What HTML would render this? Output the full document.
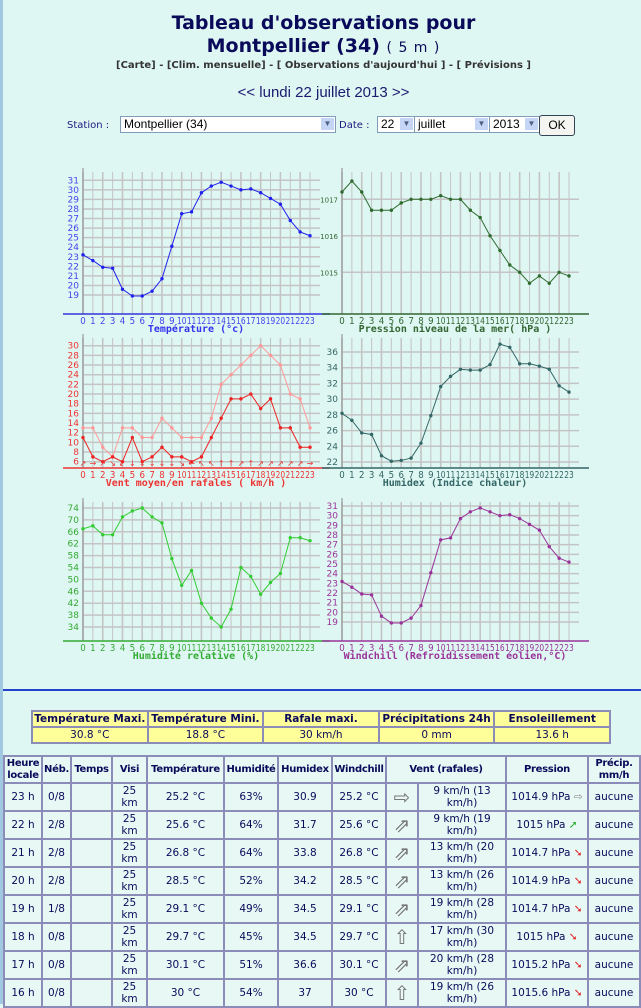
<!DOCTYPE html>
<html><head><meta charset="utf-8">
<style>
body{margin:0;width:641px;height:1004px;overflow:hidden;background:#dff7f2;font-family:"DejaVu Sans",Verdana,sans-serif;position:relative;border-left:3px solid #a0c8e0;box-sizing:border-box}
.abs{position:absolute}
h1{position:absolute;left:0;width:641px;top:12px;margin:0;text-align:center;color:#0a0a5a;font-size:19px;line-height:23px;font-weight:bold}
h1 small{font-size:14px;font-weight:normal;letter-spacing:1px}
.links{top:60px;left:0;width:641px;text-align:center;font-size:10px;font-weight:bold;color:#333}
.date{top:84px;left:0;width:641px;text-align:center;font-family:"Liberation Sans",sans-serif;font-size:15px;color:#1a1a70}
.lab{font-size:10px;color:#1a1a80}
.sel{background:#fff;border:1px solid #7f9db9;height:16px;box-sizing:border-box;font-family:"Liberation Sans",sans-serif;font-size:12px;line-height:14px;padding-left:3px}
.sel i{position:absolute;right:1px;top:1px;width:13px;height:12px;background:#c5d5f5;font-style:normal;font-size:8px;text-align:center;color:#4d6185;line-height:12px}
table{border-collapse:collapse;position:absolute;font-size:10.5px;color:#0a0a5a;table-layout:fixed}
td,th{border:2px solid #8c8cb8;text-align:center;padding:0;overflow:hidden}
.sum td{background:#ffff99}
.main{background:#e8f8f5}
.main th{font-weight:bold;line-height:12px;font-size:10px;letter-spacing:-0.3px}
.main td{line-height:12px}
.main tr{height:28px}
.main tr.hd{height:27px}
</style></head><body>
<h1>Tableau d'observations pour<br>Montpellier (34) <small>( 5 m )</small></h1>
<div class="abs links">[Carte] - [Clim. mensuelle] - [ Observations d'aujourd'hui ] - [ Prévisions ]</div>
<div class="abs date">&lt;&lt; lundi 22 juillet 2013 &gt;&gt;</div>
<div class="abs lab" style="left:64px;top:120px">Station :</div>
<div class="abs sel" style="left:117px;top:116px;width:216px;height:17px">Montpellier (34)<i>▼</i></div>
<div class="abs lab" style="left:336px;top:120px">Date :</div>
<div class="abs sel" style="left:374px;top:116px;width:38px;height:17px">22<i>▼</i></div>
<div class="abs sel" style="left:411px;top:116px;width:76px;height:17px">juillet<i>▼</i></div>
<div class="abs sel" style="left:486px;top:116px;width:51px;height:17px">2013<i>▼</i></div>
<div class="abs" style="left:536px;top:115px;width:34px;height:19px;border:1px solid #345;border-radius:3px;background:#f4f4f0;font-family:'Liberation Sans',sans-serif;font-size:12px;text-align:center;line-height:19px">OK</div>

<svg id="ch" class="abs" style="left:-3px;top:0" width="641" height="680"></svg>
<div class="abs" style="left:0;top:689px;width:641px;height:2px;background:#2244cc"></div>

<table class="sum" style="left:28px;top:710px;width:580px">
<tr style="height:16px"><th style="background:#ffff99">Température Maxi.</th><th style="background:#ffff99">Température Mini.</th><th style="background:#ffff99">Rafale maxi.</th><th style="background:#ffff99">Précipitations 24h</th><th style="background:#ffff99">Ensoleillement</th></tr>
<tr style="height:16px"><td>30.8 °C</td><td>18.8 °C</td><td>30 km/h</td><td>0 mm</td><td>13.6 h</td></tr>
</table>

<table class="main" style="left:0;top:755px;width:636px">
<colgroup><col style="width:38px"><col style="width:29px"><col style="width:41px"><col style="width:35px"><col style="width:77px"><col style="width:54px"><col style="width:54px"><col style="width:54px"><col style="width:32px"><col style="width:88px"><col style="width:82px"><col style="width:52px"></colgroup>
<tr class="hd"><th>Heure locale</th><th>Néb.</th><th>Temps</th><th>Visi</th><th>Température</th><th>Humidité</th><th>Humidex</th><th>Windchill</th><th colspan="2">Vent (rafales)</th><th>Pression</th><th>Précip. mm/h</th></tr>
<tbody id="rows"></tbody>
</table>

<script>
var NS="http://www.w3.org/2000/svg",svg=document.getElementById('ch');
function el(t,a,txt){var e=document.createElementNS(NS,t);for(var k in a)e.setAttribute(k,a[k]);if(txt!=null)e.textContent=txt;svg.appendChild(e);return e;}
var step=9.87;
function chart(o){
 var x0=o.x0,f=function(v){return o.y0+(v-o.v0)*(o.y1-o.y0)/(o.v1-o.v0)};
 for(var h=0;h<24;h++){var x=x0+h*step;el('line',{x1:x,y1:o.top,x2:x,y2:o.ay,stroke:'#c4c4c4','stroke-width':h%2?1:1.6});}
 o.ticks.forEach(function(v){var y=f(v);el('line',{x1:x0,y1:y,x2:x0+237,y2:y,stroke:'#c4c4c4','stroke-width':1.5});
  el('text',{x:x0-4,y:y+3,'text-anchor':'end','font-size':o.fs||9,fill:o.lc,'font-family':'DejaVu Sans'},v);});
 el('line',{x1:x0,y1:o.top-4,x2:x0,y2:o.ay,stroke:'#888','stroke-width':1});
 el('line',{x1:x0-20,y1:o.ay,x2:x0+247,y2:o.ay,stroke:o.ac,'stroke-width':1.5});
 for(var h=0;h<24;h++)el('text',{x:x0+h*step,y:o.ay+10,'text-anchor':'middle','font-size':9.5,fill:o.lc,'font-family':'DejaVu Sans','textLength':h>9?9.5:5.5,lengthAdjust:'spacingAndGlyphs'},h);
 el('text',{x:x0+113,y:o.ay+18,'text-anchor':'middle','font-size':10,'font-weight':'bold',fill:o.tc||o.lc,'font-family':'DejaVu Sans Mono'},o.title);
 o.series.forEach(function(s){var p=s.d.map(function(v,i){return (x0+i*step)+','+f(v)}).join(' ');
  el('polyline',{points:p,fill:'none',stroke:s.c,'stroke-width':1});
  s.d.forEach(function(v,i){el('circle',{cx:x0+i*step,cy:f(v),r:1.7,fill:s.c});});});
}
var T=[23.2,22.6,21.9,21.8,19.6,18.9,18.9,19.4,20.7,24.1,27.5,27.7,29.7,30.4,30.8,30.4,30.0,30.1,29.7,29.1,28.5,26.8,25.6,25.2];
function rng(a,b,s){var r=[];for(var v=a;v<=b;v+=s)r.push(v);return r;}
chart({x0:83,top:172,ay:314,v0:31,y0:180.3,v1:19,y1:295,ticks:rng(19,31,1),lc:'#4444ee',ac:'#3333dd',tc:'#3333ee',title:'Température (°c)',series:[{d:T,c:'#2222ee'}]});
chart({x0:342,top:172,ay:314,v0:1017,y0:199.3,v1:1015,y1:272.3,ticks:[1015,1016,1017],fs:7,lc:'#336633',ac:'#336633',title:'Pression niveau de la mer( hPa )',
 series:[{d:[1017.2,1017.5,1017.2,1016.7,1016.7,1016.7,1016.9,1017,1017,1017,1017.1,1017,1017,1016.7,1016.5,1016,1015.6,1015.2,1015,1014.7,1014.9,1014.7,1015,1014.9],c:'#2e6a2e'}]});
chart({x0:83,top:338,ay:468,v0:30,y0:345.7,v1:6,y1:461.7,ticks:rng(6,30,2),lc:'#ee3333',ac:'#ee3333',title:'Vent moyen/en rafales ( km/h )',
 series:[{d:[13,13,9,7,13,13,11,11,15,13,11,11,11,15,22,24,26,28,30,28,26,20,19,13],c:'#ff9999'},{d:[11,7,6,7,6,11,6,7,9,7,7,6,7,11,15,19,19,20,17,19,13,13,9,9],c:'#ee2222'}]});
var ar="↗→↗↘↙↓↓↓↓↓↘←↖↖↑↑↗↑↗↗↗↗↗→";
for(var i=0;i<24;i++)el('text',{x:83+i*step,y:466,'text-anchor':'middle','font-size':8,fill:'#ee3333'},ar[i]);
chart({x0:342,top:338,ay:468,v0:36,y0:352,v1:22,y1:462,ticks:rng(22,36,2),lc:'#336666',ac:'#336666',title:'Humidex (Indice chaleur)',
 series:[{d:[28.2,27.3,25.7,25.5,22.8,22.1,22.2,22.5,24.4,27.9,31.6,32.9,33.8,33.7,33.7,34.4,37,36.6,34.5,34.5,34.2,33.8,31.7,30.9],c:'#336666'}]});
chart({x0:83,top:502,ay:641,v0:74,y0:508,v1:34,y1:627,ticks:rng(34,74,4),lc:'#33aa33',ac:'#33aa33',title:'Humidité relative (%)',
 series:[{d:[67,68,65,65,71,73,74,71,69,57,48,53,42,37,34,40,54,51,45,49,52,64,64,63],c:'#33cc33'}]});
chart({x0:342,top:502,ay:641,v0:31,y0:506,v1:19,y1:622,ticks:rng(19,31,1),lc:'#993399',ac:'#993399',title:'Windchill (Refroidissement éolien,°C)',
 series:[{d:T,c:'#993399'}]});

var R=[["23 h","0/8","25.2","63%","30.9","⇨","9 km/h (13 km/h)","1014.9 hPa","⇨","#888"],
["22 h","2/8","25.6","64%","31.7","⇗","9 km/h (19 km/h)","1015 hPa","➚","#2a2"],
["21 h","2/8","26.8","64%","33.8","⇗","13 km/h (20 km/h)","1014.7 hPa","➘","#d22"],
["20 h","2/8","28.5","52%","34.2","⇗","13 km/h (26 km/h)","1014.9 hPa","➘","#d22"],
["19 h","1/8","29.1","49%","34.5","⇗","19 km/h (28 km/h)","1014.7 hPa","➘","#d22"],
["18 h","0/8","29.7","45%","34.5","⇧","17 km/h (30 km/h)","1015 hPa","➘","#d22"],
["17 h","0/8","30.1","51%","36.6","⇗","20 km/h (28 km/h)","1015.2 hPa","➘","#d22"],
["16 h","0/8","30","54%","37","⇧","19 km/h (26 km/h)","1015.6 hPa","➘","#d22"]];
var h="";R.forEach(function(r){h+="<tr><td>"+r[0]+"</td><td>"+r[1]+"</td><td></td><td>25<br>km</td><td>"+r[2]+" °C</td><td>"+r[3]+"</td><td>"+r[4]+"</td><td>"+r[2]+" °C</td><td style='font-size:20px;color:#777'>"+r[5]+"</td><td>"+r[6]+"</td><td>"+r[7]+" <span style='color:"+r[9]+"'>"+r[8]+"</span></td><td>aucune</td></tr>";});
document.getElementById('rows').innerHTML=h;
</script>
</body></html>
